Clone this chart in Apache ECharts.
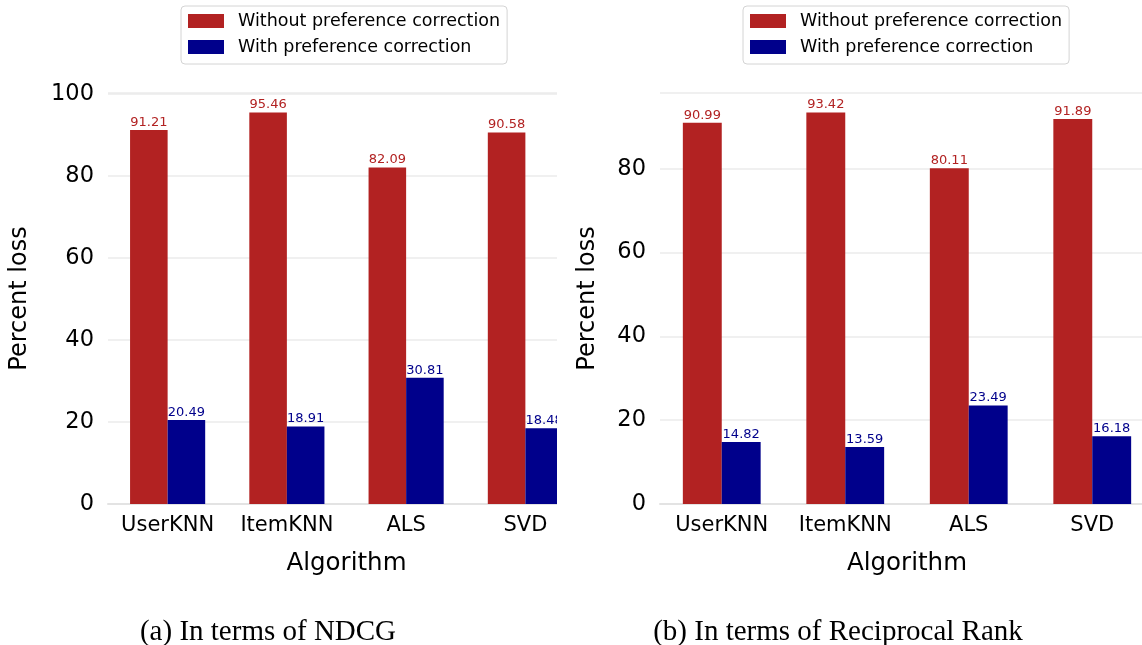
<!DOCTYPE html>
<html>
<head>
<meta charset="utf-8">
<script src="https://cdn.jsdelivr.net/npm/echarts@6/dist/echarts.min.js"></script>
<style>
html,body{margin:0;padding:0;background:#fff;overflow:hidden;}
#wrap{position:relative;width:1142px;height:645px;}
#clipA{position:absolute;left:0;top:0;width:557px;height:645px;overflow:hidden;}
#clipB{position:absolute;left:557px;top:0;width:585px;height:645px;overflow:hidden;}
#chartA{position:absolute;left:0;top:0;width:620px;height:645px;}
#chartB{position:absolute;left:0;top:0;width:640px;height:645px;}
</style>
</head>
<body>
<div id="wrap">
  <div id="clipA"><div id="chartA"></div></div>
  <div id="clipB"><div id="chartB"></div></div>
</div>
<script>
const categories = ['UserKNN', 'ItemKNN', 'ALS', 'SVD'];
const seriesNames = ['Without preference correction', 'With preference correction'];
const ndcgWithout = [91.21, 95.46, 82.09, 90.58];
const ndcgWith = [20.49, 18.91, 30.81, 18.48];
const rrWithout = [90.99, 93.42, 80.11, 91.89];
const rrWith = [14.82, 13.59, 23.49, 16.18];
const yTicksA = [0, 20, 40, 60, 80, 100];
const yTicksB = [0, 20, 40, 60, 80];
const captions = ['(a) In terms of NDCG', '(b) In terms of Reciprocal Rank'];

const RED = '#b22222';
const BLUE = '#00008b';
const FONT = 'DejaVu Sans';

function barSeries(name, vals, color) {
  return {
    name: name,
    type: 'bar',
    data: vals,
    barWidth: '31.5%',
    barGap: '0%',
    itemStyle: { color: color },
    label: {
      show: true,
      position: 'top',
      distance: 1,
      color: color,
      fontFamily: FONT,
      fontSize: 13,
      formatter: p => p.value.toFixed(2)
    }
  };
}

function buildOption(cfg) {
  return {
    animation: false,
    backgroundColor: '#fff',
    color: [RED, BLUE],
    legend: {
      orient: 'vertical',
      left: cfg.legendLeft,
      top: 6,
      padding: [5, 7, 7, 7],
      itemWidth: 36,
      itemHeight: 14,
      itemGap: 6,
      borderColor: '#d4d4d4',
      borderWidth: 1,
      borderRadius: 4,
      backgroundColor: '#fff',
      icon: 'rect',
      data: seriesNames,
      textStyle: { fontFamily: FONT, fontSize: 17.5, color: '#000', lineHeight: 20, padding: [0, 0, 0, 9] }
    },
    grid: { left: cfg.gridLeft, top: 93, width: cfg.gridWidth, height: 411 },
    xAxis: {
      type: 'category',
      data: categories,
      name: 'Algorithm',
      nameLocation: 'middle',
      nameGap: 47,
      nameTextStyle: { fontFamily: FONT, fontSize: 24.5, color: '#000' },
      axisLine: { show: true, lineStyle: { color: '#e3e3e3', width: 2 } },
      axisTick: { show: false },
      splitLine: { show: false },
      axisLabel: { interval: 0, fontFamily: FONT, fontSize: 21, color: '#000', margin: 11 }
    },
    yAxis: {
      type: 'value',
      min: 0,
      max: cfg.yMax,
      interval: 20,
      name: 'Percent loss',
      nameLocation: 'middle',
      nameGap: cfg.nameGap,
      nameTextStyle: { fontFamily: FONT, fontSize: 24, color: '#000' },
      axisLine: { show: false },
      axisTick: { show: false },
      splitLine: { show: true, lineStyle: { color: '#ebebeb', width: 1.5 } },
      axisLabel: {
        fontFamily: FONT,
        fontSize: 22.5,
        color: '#000',
        margin: 14,
        formatter: v => (cfg.ticks.indexOf(v) >= 0 ? String(v) : '')
      }
    },
    series: [
      barSeries(seriesNames[0], cfg.without, RED),
      barSeries(seriesNames[1], cfg.withC, BLUE)
    ],
    graphic: [
      { type: 'text', x: cfg.captionX, y: 632, style: { text: cfg.caption, fontFamily: 'Liberation Serif', fontSize: 29, fill: '#000', textAlign: 'center', textVerticalAlign: 'middle' } }
    ]
  };
}

const chartA = echarts.init(document.getElementById('chartA'), null, { renderer: 'canvas' });
chartA.setOption(buildOption({
  legendLeft: 181, gridLeft: 106, gridWidth: 479, yMax: 100.23, ticks: yTicksA, nameGap: 76,
  without: ndcgWithout, withC: ndcgWith, caption: captions[0], captionX: 268
}));

const chartB = echarts.init(document.getElementById('chartB'), null, { renderer: 'canvas' });
chartB.setOption(buildOption({
  legendLeft: 743 - 557, gridLeft: 660 - 557, gridWidth: 494, yMax: 98.09, ticks: yTicksB, nameGap: 60,
  without: rrWithout, withC: rrWith, caption: captions[1], captionX: 838 - 557
}));
</script>
</body>
</html>
